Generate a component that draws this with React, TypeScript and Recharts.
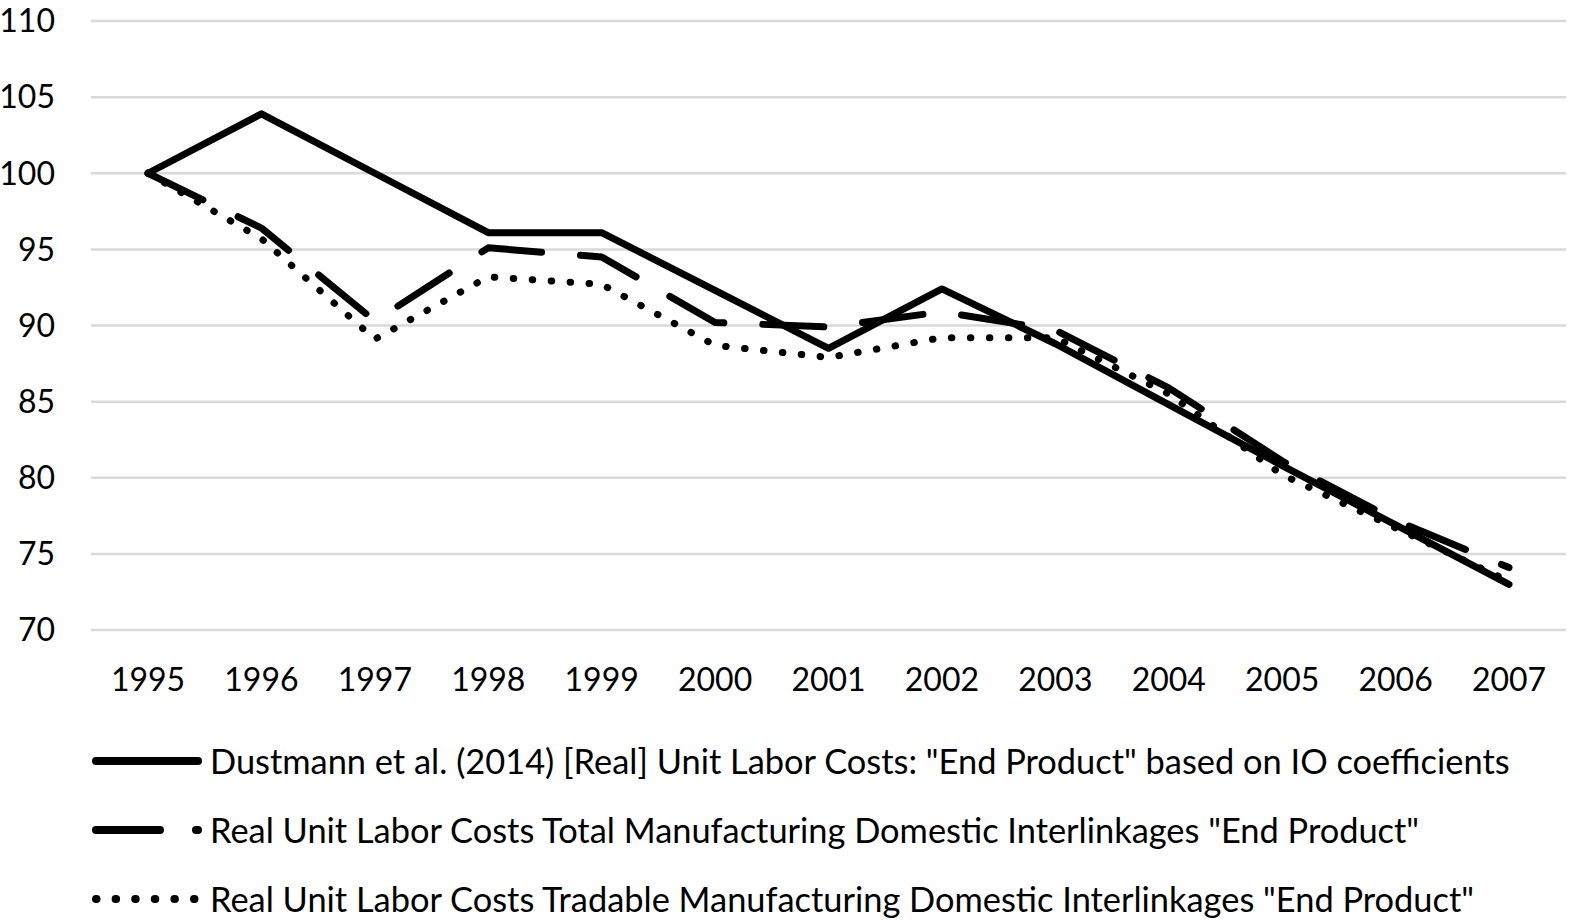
import { CartesianGrid, Line, LineChart, XAxis, YAxis } from "recharts";

const years = ["1995", "1996", "1997", "1998", "1999", "2000", "2001", "2002", "2003", "2004", "2005", "2006", "2007"];

const dustmannValues = [100, 103.9, 100.0, 96.1, 96.1, 92.3, 88.5, 92.4, 88.8, 84.8, 80.8, 76.9, 73.0];
const totalValues = [100, 96.4, 90.3, 95.1, 94.5, 90.2, 89.9, 90.9, 89.7, 85.9, 81.1, 77.2, 74.1];
const tradableValues = [100, 95.7, 89.1, 93.2, 92.7, 88.7, 87.9, 89.2, 89.2, 85.5, 80.2, 76.7, 73.2];

const yTicks = [70, 75, 80, 85, 90, 95, 100, 105, 110];

const seriesNames = [
  'Dustmann et al. (2014) [Real] Unit Labor Costs: "End Product" based on IO coefficients',
  'Real Unit Labor Costs Total Manufacturing Domestic Interlinkages "End Product"',
  'Real Unit Labor Costs Tradable Manufacturing Domestic Interlinkages "End Product"'
];

const data = years.map((year, i) => ({
  year,
  dustmann: dustmannValues[i],
  total: totalValues[i],
  tradable: tradableValues[i]
}));

const FONT = "Lato, 'Open Sans', sans-serif";
const LINE_W = 7;
const DASH = "61 39";
const DOT = "0.5 18.5";

const legendRows = [
  { name: seriesNames[0], dash: undefined },
  { name: seriesNames[1], dash: "64 36" },
  { name: seriesNames[2], dash: "0.5 19.1" }
];

// excel-like legend under the plot, drawn as plain html
function ChartLegend() {
  return (
    <div
      style={{
        position: "absolute",
        left: 88,
        top: 726,
        fontFamily: FONT,
        fontSize: 34.4,
        color: "#000"
      }}
    >
      {legendRows.map((row) => (
        <div key={row.name} style={{ height: 69, display: "flex", alignItems: "center", whiteSpace: "nowrap" }}>
          <svg width={122} height={20} style={{ flex: "none" }}>
            <line
              x1={8}
              y1={10}
              x2={110}
              y2={10}
              stroke="#000"
              strokeWidth={8}
              strokeLinecap="round"
              strokeDasharray={row.dash}
            />
          </svg>
          <span>{row.name}</span>
        </div>
      ))}
    </div>
  );
}

export default function App() {
  return (
    <div style={{ position: "absolute", left: 0, top: 0, width: 1573, height: 920, background: "#fff" }}>
      <LineChart
        width={1573}
        height={920}
        data={data}
        margin={{ top: 21, right: 7, bottom: 260, left: 0 }}
      >
        <CartesianGrid vertical={false} stroke="#d9d9d9" strokeWidth={2.5} />
        <XAxis
          dataKey="year"
          height={30}
          axisLine={false}
          tickLine={false}
          tickSize={0}
          tickMargin={38}
          padding={{ left: 57, right: 57 }}
          interval={0}
          tick={{ fill: "#000", fontSize: 32, fontFamily: FONT }}
        />
        <YAxis
          width={91}
          domain={[70, 110]}
          ticks={yTicks}
          axisLine={false}
          tickLine={false}
          tickSize={0}
          tickMargin={36}
          interval={0}
          tick={{ fill: "#000", fontSize: 32, fontFamily: FONT }}
        />
        <Line
          type="linear"
          dataKey="dustmann"
          name={seriesNames[0]}
          stroke="#000"
          strokeWidth={LINE_W}
          strokeLinecap="round"
          strokeLinejoin="round"
          dot={false}
          activeDot={false}
          isAnimationActive={false}
        />
        <Line
          type="linear"
          dataKey="total"
          name={seriesNames[1]}
          stroke="#000"
          strokeWidth={LINE_W}
          strokeLinecap="round"
          strokeLinejoin="round"
          strokeDasharray={DASH}
          dot={false}
          activeDot={false}
          isAnimationActive={false}
        />
        <Line
          type="linear"
          dataKey="tradable"
          name={seriesNames[2]}
          stroke="#000"
          strokeWidth={LINE_W}
          strokeLinecap="round"
          strokeLinejoin="round"
          strokeDasharray={DOT}
          dot={false}
          activeDot={false}
          isAnimationActive={false}
        />
      </LineChart>
      <ChartLegend />
    </div>
  );
}
